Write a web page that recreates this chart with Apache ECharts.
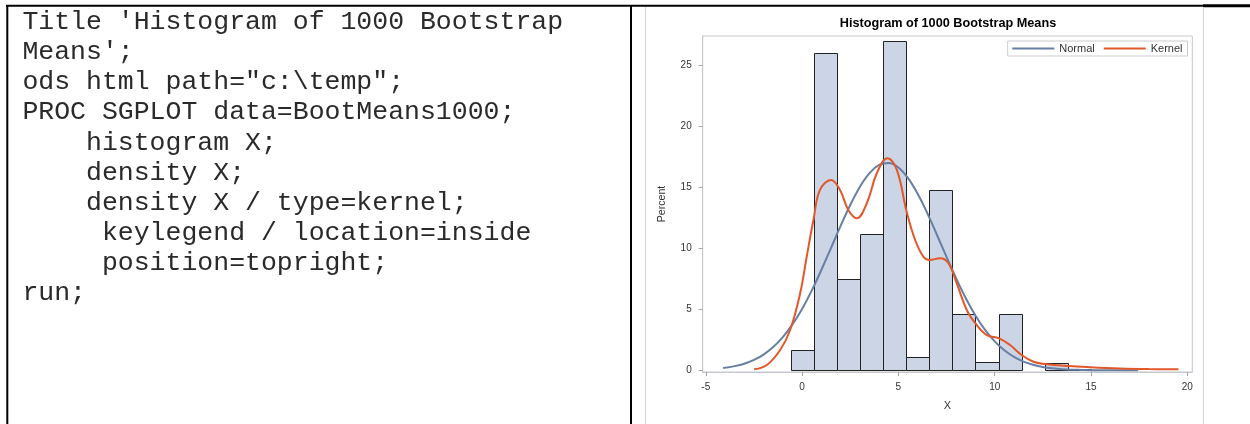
<!DOCTYPE html>
<html>
<head>
<meta charset="utf-8">
<script src="https://cdn.jsdelivr.net/npm/echarts@6/dist/echarts.min.js"></script>
<style>
html,body{margin:0;padding:0;background:#fff;}
#main{width:1250px;height:424px;}
</style>
</head>
<body>
<div id="main"></div>
<script>
// ---- data ----
const codeLines = [
  "Title 'Histogram of 1000 Bootstrap",
  "Means';",
  "ods html path=\"c:\\temp\";",
  "PROC SGPLOT data=BootMeans1000;",
  "    histogram X;",
  "    density X;",
  "    density X / type=kernel;",
  "     keylegend / location=inside",
  "     position=topright;",
  "run;"
];
const chartTitle = 'Histogram of 1000 Bootstrap Means';
const binWidth = 1.2;
const binCenters  = [0, 1.2, 2.4, 3.6, 4.8, 6.0, 7.2, 8.4, 9.6, 10.8, 12.0, 13.2, 14.4];
const binPercents = [1.7, 26.0, 7.5, 11.2, 27.0, 1.1, 14.8, 4.6, 0.7, 4.6, 0, 0.6, 0.1];
const normalX = [-4.1, -3.5, -3, -2.5, -2, -1.5, -1, -0.5, 0, 0.5, 1, 1.5, 2, 2.5, 3, 3.5, 4, 4.5, 5, 5.5, 6, 6.5, 7, 7.5, 8, 8.5, 9, 9.5, 10, 10.5, 11, 11.5, 12, 12.5, 13, 13.5, 14, 14.5, 15, 16, 17, 17.45];
const normalY = [0.18, 0.34, 0.54, 0.85, 1.29, 1.90, 2.72, 3.76, 5.03, 6.53, 8.22, 10.02, 11.84, 13.55, 15.03, 16.16, 16.83, 16.99, 16.62, 15.75, 14.47, 12.88, 11.11, 9.29, 7.53, 5.91, 4.49, 3.31, 2.37, 1.64, 1.10, 0.71, 0.45, 0.27, 0.16, 0.09, 0.05, 0.03, 0.01, 0.0, 0.0, 0.0];
const kernelX = [-2.49, -1.83, -1.14, -0.62, -0.10, 0.24, 0.59, 0.93, 1.51, 1.97, 2.40, 2.84, 3.36, 3.88, 4.43, 4.92, 5.43, 5.87, 6.30, 6.61, 7.17, 7.60, 8.03, 8.55, 9.00, 9.59, 10.23, 10.80, 11.40, 12.01, 12.62, 13.83, 14.95, 16.5, 18.0, 19.54];
const kernelY = [0.08, 0.43, 1.66, 3.30, 6.31, 9.31, 12.32, 14.78, 15.6, 14.78, 13.14, 12.46, 13.69, 16.15, 17.38, 16.42, 13.0, 10.68, 9.31, 9.04, 9.18, 8.77, 7.13, 4.94, 3.85, 2.89, 2.62, 2.07, 1.25, 0.70, 0.52, 0.35, 0.25, 0.15, 0.10, 0.08];
const xTicks = [-5, 0, 5, 10, 15, 20];
const yTicks = [0, 5, 10, 15, 20, 25];
const seriesNames = ['Normal', 'Kernel'];

// ---- build ----
const histData = binCenters.map((c, i) => [c, binPercents[i]]);
const normalData = normalX.map((x, i) => [x, normalY[i]]);
const kernelData = kernelX.map((x, i) => [x, kernelY[i]]);

const chart = echarts.init(document.getElementById('main'), null, {renderer: 'canvas'});

const codeGraphics = codeLines.map((t, i) => ({
  type: 'text',
  left: 22.4,
  top: 8.5 + i * 30.15,
  style: {
    text: t,
    font: '26.5px "Liberation Mono", "DejaVu Sans Mono", monospace',
    fill: '#2a2a2a'
  },
  silent: true
}));

const lineIcon = 'path://M0,0 L42,0 L42,2 L0,2 Z';

const option = {
  animation: false,
  backgroundColor: '#ffffff',
  textStyle: {fontFamily: '"Liberation Sans", Arial, sans-serif'},
  grid: {
    left: 702.7, top: 36, right: 57.7, bottom: 52,
    show: true, borderColor: '#c4c8cc', borderWidth: 1, backgroundColor: 'transparent',
    containLabel: false
  },
  legend: {
    data: [
      {name: 'Normal', icon: lineIcon},
      {name: 'Kernel', icon: lineIcon}
    ],
    left: 1007.7, top: 41,
    orient: 'horizontal',
    itemWidth: 42, itemHeight: 2, itemGap: 9,
    padding: [1, 5, 1, 4.6],
    borderColor: '#c8ccd0', borderWidth: 1, backgroundColor: '#fff',
    textStyle: {fontSize: 11, color: '#333', lineHeight: 13, fontFamily: '"Liberation Sans", Arial, sans-serif'},
    selectedMode: false
  },
  xAxis: {
    type: 'value', min: -5.16, max: 20.26,
    name: 'X', nameLocation: 'middle', nameGap: 28,
    nameTextStyle: {fontSize: 11, color: '#333'},
    axisLine: {show: true, onZero: false, lineStyle: {color: '#c4c8cc'}},
    axisTick: {show: true, customValues: xTicks, length: 4, lineStyle: {color: '#a0a4a8'}},
    axisLabel: {customValues: xTicks, fontSize: 10, color: '#333', margin: 10},
    splitLine: {show: false}
  },
  yAxis: {
    type: 'value', min: -0.14, max: 27.4,
    name: 'Percent', nameLocation: 'middle', nameGap: 35, nameRotate: 90,
    nameTextStyle: {fontSize: 10.6, color: '#333'},
    axisLine: {show: true, onZero: false, lineStyle: {color: '#c4c8cc'}},
    axisTick: {show: true, customValues: yTicks, length: 4, lineStyle: {color: '#a0a4a8'}},
    axisLabel: {customValues: yTicks, fontSize: 10, color: '#333', margin: 11},
    splitLine: {show: false}
  },
  series: [
    {
      type: 'custom',
      name: 'Histogram',
      data: histData,
      encode: {x: 0, y: 1},
      clip: true,
      renderItem: function (params, api) {
        const c = api.value(0), v = api.value(1);
        if (!v) return null;
        const p0 = api.coord([c - binWidth / 2, v]);
        const p1 = api.coord([c + binWidth / 2, 0]);
        return {
          type: 'rect',
          shape: {x: Math.round(p0[0]) + 0.5, y: Math.round(p0[1]) + 0.5, width: Math.round(p1[0]) - Math.round(p0[0]), height: Math.round(p1[1]) - Math.round(p0[1])},
          style: {fill: '#cbd5e5', stroke: '#222222', lineWidth: 1}
        };
      }
    },
    {
      type: 'line', name: 'Normal', data: normalData,
      smooth: 0.4, symbol: 'none', showSymbol: false,
      lineStyle: {color: '#667fa3', width: 2},
      itemStyle: {color: '#667fa3'}
    },
    {
      type: 'line', name: 'Kernel', data: kernelData,
      smooth: 0.4, symbol: 'none', showSymbol: false,
      lineStyle: {color: '#e2582a', width: 2},
      itemStyle: {color: '#e2582a'}
    }
  ],
  graphic: [
    {type: 'line', shape: {x1: 6, y1: 5.7, x2: 1203, y2: 5.7}, style: {stroke: '#000', lineWidth: 2}, silent: true},
    {type: 'line', shape: {x1: 1203, y1: 5.7, x2: 1250, y2: 5.7}, style: {stroke: '#000', lineWidth: 3}, silent: true},
    {type: 'line', shape: {x1: 7.3, y1: 5, x2: 7.3, y2: 424}, style: {stroke: '#000', lineWidth: 2}, silent: true},
    {type: 'line', shape: {x1: 631, y1: 5, x2: 631, y2: 424}, style: {stroke: '#000', lineWidth: 2}, silent: true},
    {type: 'line', shape: {x1: 645.5, y1: 7, x2: 645.5, y2: 424}, style: {stroke: '#d4d4d4', lineWidth: 1}, silent: true},
    {type: 'line', shape: {x1: 1203.5, y1: 7, x2: 1203.5, y2: 424}, style: {stroke: '#d4d4d4', lineWidth: 1}, silent: true},
    {type: 'text', x: 948, y: 23.3, style: {text: chartTitle, font: 'bold 12.7px "Liberation Sans", Arial, sans-serif', fill: '#000', align: 'center', verticalAlign: 'middle'}, silent: true}
  ].concat(codeGraphics)
};
chart.setOption(option);
</script>
</body>
</html>
